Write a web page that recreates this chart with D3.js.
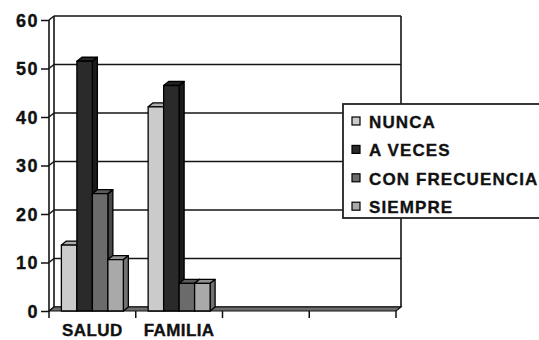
<!DOCTYPE html>
<html>
<head>
<meta charset="utf-8">
<script src="https://cdn.jsdelivr.net/npm/d3@7"></script>
<style>
  html, body { margin: 0; padding: 0; background: #fff; }
  svg { display: block; }
  text { font-family: "Liberation Sans", Arial, sans-serif; font-weight: bold; fill: #111; stroke: #111; stroke-width: 0.35px; }
</style>
</head>
<body>
<svg id="chart" width="539" height="340"></svg>
<script>
// Survey answers per area (percent)
const categories = ["SALUD", "FAMILIA", "", ""];
const series = ["NUNCA", "A VECES", "CON FRECUENCIA", "SIEMPRE"];
const nunca = [13.6, 42.1, null, null];
const aVeces = [51.5, 46.5, null, null];
const conFrecuencia = [24.2, 5.7, null, null];
const siempre = [10.6, 5.7, null, null];
const yTicks = [0, 10, 20, 30, 40, 50, 60];
const colors = ["#cbcbcb", "#2a2a2a", "#6b6b6b", "#a9a9a9"];

const seriesValues = [nunca, aVeces, conFrecuencia, siempre];

const svg = d3.select("#chart");

// depth offset of the pseudo-3D box (front plane -> back plane)
const DX = 5, DY = 4;

// back-plane value scale; the front plane sits DY lower
const y = d3.scaleLinear().domain([0, 60]).range([307, 16]);
const yFront = d3.scaleLinear().domain([0, 60]).range([307 + DY, 16 + DY]);

const x0 = d3.scaleBand().domain(d3.range(categories.length)).range([49, 396]);
const x1 = d3.scaleBand().domain(series).range([0, x0.bandwidth()])
  .paddingInner(0).paddingOuter(0.8);

const left = x0.range()[0], right = x0.range()[1];
const base = yFront(0);

// back wall
svg.append("rect")
  .attr("x", left + DX).attr("y", y(60))
  .attr("width", right - left).attr("height", y(0) - y(60))
  .attr("fill", "#fff");

// gridlines on the back wall and their run across the side wall
const grid = svg.append("g").attr("stroke", "#151515").attr("stroke-width", 1.6).attr("fill", "none");
yTicks.forEach(t => {
  grid.append("line")
    .attr("x1", left + DX).attr("x2", right + DX)
    .attr("y1", y(t)).attr("y2", y(t));
  grid.append("line")
    .attr("x1", left).attr("x2", left + DX)
    .attr("y1", yFront(t)).attr("y2", y(t));
});
// wall edges
grid.append("line").attr("x1", left + DX).attr("x2", left + DX).attr("y1", y(60)).attr("y2", y(0));
grid.append("line").attr("x1", right + DX).attr("x2", right + DX).attr("y1", y(60)).attr("y2", y(0));
grid.append("line").attr("x1", left).attr("x2", left).attr("y1", yFront(60)).attr("y2", yFront(0));

// floor slab
svg.append("path")
  .attr("d", `M${left},${base}L${right},${base}L${right + DX},${y(0)}L${left + DX},${y(0)}Z`)
  .attr("fill", "#6e6e6e").attr("stroke", "#111").attr("stroke-width", 1.2);

// 3D columns
const bars = svg.append("g").attr("stroke", "#000").attr("stroke-width", 1.3).attr("stroke-linejoin", "round");
categories.forEach((c, ci) => {
  series.forEach((s, si) => {
    const v = seriesValues[si][ci];
    if (v == null) return;
    const xa = x0(ci) + x1(s);
    const w = x1.bandwidth();
    const top = yFront(v);
    const col = d3.color(colors[si]);
    // right side face
    bars.append("path")
      .attr("d", `M${xa + w},${base}L${xa + w + DX},${base - DY}L${xa + w + DX},${top - DY}L${xa + w},${top}Z`)
      .attr("fill", col.darker(1.1));
    // top face
    bars.append("path")
      .attr("d", `M${xa},${top}L${xa + DX},${top - DY}L${xa + w + DX},${top - DY}L${xa + w},${top}Z`)
      .attr("fill", col.darker(0.45));
    // front face
    bars.append("rect")
      .attr("x", xa).attr("y", top)
      .attr("width", w).attr("height", base - top)
      .attr("fill", col);
  });
});

// value axis on the front plane
const yAxis = svg.append("g")
  .attr("transform", `translate(${left},0)`)
  .call(d3.axisLeft(yFront).tickValues(yTicks).tickSize(8).tickPadding(2).tickFormat(d3.format("d")));
yAxis.select(".domain").remove();
yAxis.selectAll(".tick line").attr("stroke", "#111").attr("stroke-width", 1.5);
yAxis.selectAll(".tick text")
  .attr("font-size", 18).attr("letter-spacing", 1.5).attr("dy", "0.36em")
  .style("font-family", "'Liberation Sans', Arial, sans-serif").style("font-weight", "bold")
  .style("stroke", "#111").style("stroke-width", "0.35px").attr("fill", "#111");

// category axis: ticks at band boundaries, labels centred
const xAxis = svg.append("g");
d3.range(categories.length + 1).forEach(i => {
  const xt = left + i * x0.step();
  xAxis.append("line")
    .attr("x1", xt).attr("x2", xt).attr("y1", base).attr("y2", base + 7)
    .attr("stroke", "#111").attr("stroke-width", 1.5);
});
xAxis.selectAll("text.cat")
  .data(categories)
  .join("text")
  .attr("class", "cat")
  .attr("x", (d, i) => x0(i) + x0.bandwidth() / 2)
  .attr("y", 336)
  .attr("text-anchor", "middle")
  .attr("font-size", 17)
  .attr("letter-spacing", 0.4)
  .text(d => d);

// legend
const legend = svg.append("g").attr("transform", "translate(343,104)");
legend.append("rect")
  .attr("x", 0).attr("y", 0).attr("width", 230).attr("height", 114)
  .attr("fill", "#fff").attr("stroke", "#222").attr("stroke-width", 1.8);
const item = legend.selectAll("g.item")
  .data(series)
  .join("g")
  .attr("class", "item")
  .attr("transform", (d, i) => `translate(0,${17 + i * 28.4})`);
item.append("rect")
  .attr("x", 9).attr("y", -4).attr("width", 8).attr("height", 8)
  .attr("fill", (d, i) => colors[i]).attr("stroke", "#000").attr("stroke-width", 1.2);
item.append("text")
  .attr("x", 26).attr("y", 7)
  .attr("font-size", 17).attr("letter-spacing", 1.1)
  .text(d => d);
</script>
</body>
</html>
